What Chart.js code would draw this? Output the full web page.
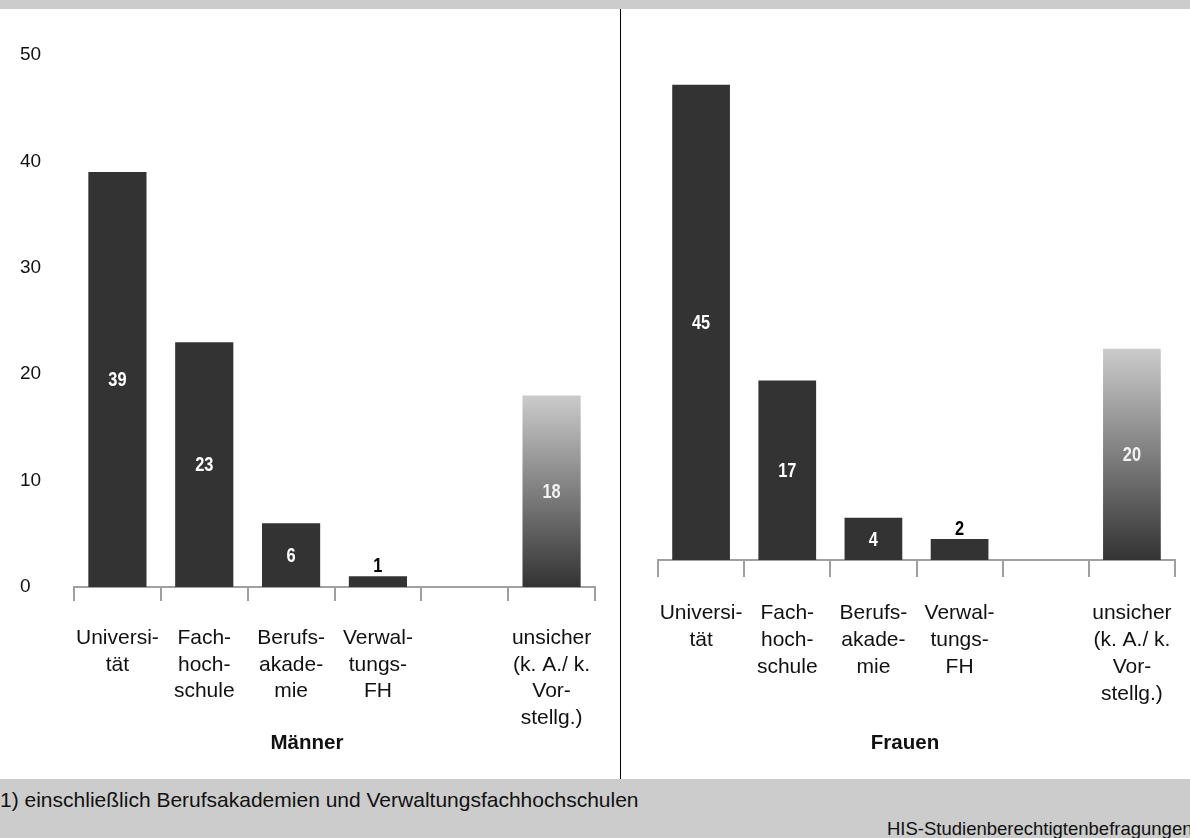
<!DOCTYPE html>
<html>
<head>
<meta charset="utf-8">
<script src="https://cdn.jsdelivr.net/npm/chart.js@4.4.1/dist/chart.umd.min.js"></script>
<style>
  html, body { margin:0; padding:0; width:1190px; height:838px; overflow:hidden; background:#fff;
    font-family:'Liberation Sans', Arial, sans-serif; color:#111; }
  #hdr { position:absolute; left:0; top:0; width:1190px; height:9px; background:#cccccc; }
  #ftr { position:absolute; left:0; top:779px; width:1190px; height:59px; background:#cccccc; }
  #divider { position:absolute; left:620px; top:9px; width:1px; height:770px; background:#000; }
  #w1 { position:absolute; left:0; top:10px; width:620px; height:768px; }
  #w2 { position:absolute; left:621px; top:10px; width:569px; height:768px; }
  .ptitle { position:absolute; top:730px; width:200px; text-align:center; font-weight:bold;
    font-size:20.5px; line-height:24px; color:#111; }
  #note { position:absolute; left:0; top:788px; font-size:21px; line-height:24px; white-space:nowrap; color:#111; }
  #src { position:absolute; left:887px; top:818px; font-size:18.5px; line-height:22px; white-space:nowrap; color:#111; }
</style>
</head>
<body>
<div id="hdr"></div>
<div id="w1"><canvas id="c1"></canvas></div>
<div id="w2"><canvas id="c2"></canvas></div>
<div id="divider"></div>
<div class="ptitle" id="t1" style="left:207px;"></div>
<div class="ptitle" id="t2" style="left:805px;"></div>
<div id="ftr"></div>
<div id="note"></div>
<div id="src"></div>
<script>
// ---- data ----
const categories = [
  ['Universi-', 'tät'],
  ['Fach-', 'hoch-', 'schule'],
  ['Berufs-', 'akade-', 'mie'],
  ['Verwal-', 'tungs-', 'FH'],
  [''],
  ['unsicher', '(k. A./ k.', 'Vor-', 'stellg.)']
];
const maennerValues = [39, 23, 6, 1, null, 18];
const frauenValues  = [45, 17, 4, 2, null, 20];
const yTicks = [0, 10, 20, 30, 40, 50];
const panelTitles = ['Männer', 'Frauen'];
const footnote = '1) einschließlich Berufsakademien und Verwaltungsfachhochschulen';
const source = 'HIS-Studienberechtigtenbefragungen';
const unsureIndex = 5;

document.getElementById('t1').textContent = panelTitles[0];
document.getElementById('t2').textContent = panelTitles[1];
document.getElementById('note').textContent = footnote;
document.getElementById('src').textContent = source;

const SANS = '"Liberation Sans", Arial, sans-serif';

const valueLabels = {
  id: 'valueLabels',
  afterDatasetsDraw(chart) {
    const ctx = chart.ctx;
    const meta = chart.getDatasetMeta(0);
    const data = chart.data.datasets[0].data;
    meta.data.forEach((bar, i) => {
      const v = data[i];
      if (v == null) return;
      const p = bar.getProps(['x', 'y', 'base'], true);
      const ty = v >= 3 ? (p.y + p.base) / 2 : p.y - 11;
      ctx.save();
      ctx.font = 'bold 21px ' + SANS;
      ctx.textAlign = 'center';
      ctx.textBaseline = 'middle';
      ctx.translate(p.x, ty);
      ctx.scale(0.78, 1);
      ctx.fillStyle = v >= 3 ? (i === unsureIndex ? '#f2f2f2' : '#ffffff') : '#000000';
      ctx.fillText(String(v), 0, 1);
      ctx.restore();
    });
  }
};

function barColor(c) {
  if (c.dataIndex !== unsureIndex) return '#333333';
  const chart = c.chart;
  if (!chart.chartArea || !chart.scales.y) return '#777777';
  const ys = chart.scales.y;
  const top = ys.getPixelForValue(c.raw);
  const bottom = ys.getPixelForValue(0);
  const g = chart.ctx.createLinearGradient(0, top, 0, bottom);
  g.addColorStop(0, '#cbcbcb');
  g.addColorStop(1, '#333333');
  return g;
}

function makeChart(id, values, opts) {
  return new Chart(document.getElementById(id), {
    type: 'bar',
    data: {
      labels: categories,
      datasets: [{
        data: values,
        backgroundColor: barColor,
        borderWidth: 0,
        barPercentage: 0.67,
        categoryPercentage: 1.0
      }]
    },
    options: {
      responsive: true,
      maintainAspectRatio: false,
      animation: false,
      events: [],
      layout: { padding: { left: opts.padLeft, right: opts.padRight, top: opts.padTop, bottom: 0 } },
      plugins: { legend: { display: false }, tooltip: { enabled: false }, title: { display: false } },
      scales: {
        x: {
          offset: true,
          grid: {
            offset: true,
            drawOnChartArea: false,
            drawTicks: true,
            tickLength: opts.tickLength,
            color: '#a0a0a0',
            lineWidth: 2
          },
          border: { display: true, color: '#a0a0a0', width: 2 },
          ticks: {
            autoSkip: false,
            maxRotation: 0,
            minRotation: 0,
            padding: opts.labelPad,
            color: '#111111',
            font: { family: SANS, size: 21, lineHeight: opts.lineHeight }
          },
          afterFit(scale) {
            scale.height = opts.xHeight;
            scale.paddingLeft = 0;
            scale.paddingRight = 0;
          }
        },
        y: {
          display: opts.showY,
          min: 0,
          max: 50,
          grid: { display: false },
          border: { display: false },
          afterBuildTicks(scale) {
            scale.ticks = yTicks.map(v => ({ value: v }));
          },
          ticks: {
            crossAlign: 'far',
            padding: 0,
            color: '#111111',
            font: { family: SANS, size: 19 }
          },
          afterFit(scale) {
            scale.width = opts.yWidth;
            scale.paddingTop = 0;
            scale.paddingBottom = 0;
          }
        }
      }
    },
    plugins: [valueLabels]
  });
}

makeChart('c1', maennerValues, {
  padLeft: 20, padRight: 25, padTop: 45, yWidth: 54, showY: true,
  xHeight: 191, tickLength: 14, labelPad: 24, lineHeight: 26.5 / 21
});
makeChart('c2', frauenValues, {
  padLeft: 37, padRight: 15, padTop: 22, yWidth: 0, showY: false,
  xHeight: 218, tickLength: 17, labelPad: 22.5, lineHeight: 27 / 21
});
</script>
</body>
</html>
